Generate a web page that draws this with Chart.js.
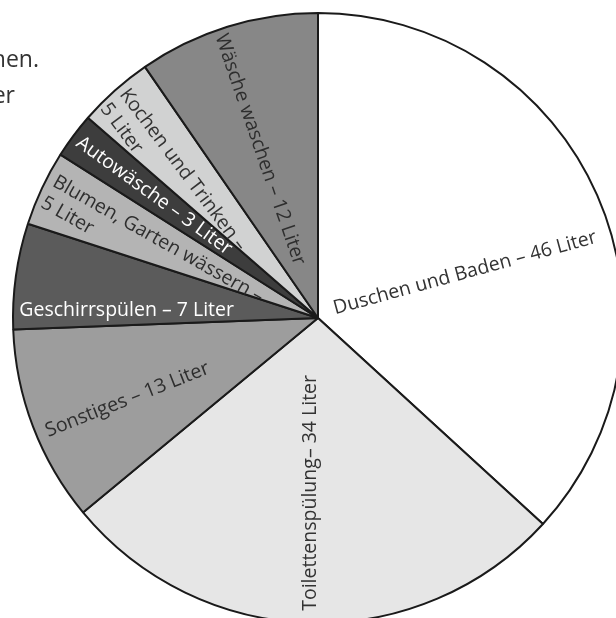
<!DOCTYPE html>
<html lang="de">
<head>
    <meta charset="UTF-8">
    <title>Wasserverbrauch pro Tag</title>
    <script src="https://cdn.jsdelivr.net/npm/chart.js@4"></script>
    <style>
        html, body { margin: 0; padding: 0; overflow: hidden; background: #fff; }
        #wasser { display: block; }
    </style>
</head>
<body>

<canvas id="wasser" width="636" height="636"></canvas>

<script>
    // Verbrauch pro Person und Tag (Liter), im Uhrzeigersinn ab 12 Uhr
    const kategorien = ['Duschen und Baden', 'Toilettenspülung', 'Sonstiges', 'Geschirrspülen',
        'Blumen, Garten wässern', 'Autowäsche', 'Kochen und Trinken', 'Wäsche waschen'];
    const liter = [46, 34, 13, 7, 5, 3, 5, 12];

    // Beschriftung in den Segmenten (Zeilen)
    const beschriftung = [
        ['Duschen und Baden – 46 Liter'],
        ['Toilettenspülung– 34 Liter'],
        ['Sonstiges – 13 Liter'],
        ['Geschirrspülen – 7 Liter'],
        ['Blumen, Garten wässern –', '5 Liter'],
        ['Autowäsche – 3 Liter'],
        ['Kochen und Trinken –', '5 Liter'],
        ['Wäsche waschen – 12 Liter']
    ];

    // Graustufen der Segmente
    const farben = ['#ffffff', '#e6e6e6', '#9d9d9d', '#5b5b5b', '#b4b4b4', '#3d3d3d', '#d1d2d2', '#878787'];
    const textFarben = ['#333333', '#333333', '#2e2e2e', '#ffffff', '#2e2e2e', '#ffffff', '#333333', '#2e2e2e'];

    // Lage der Texte: t = Anteil im Winkel des Segments, r = Anteil vom Radius, rot = Drehung in Grad
    const textLage = [
        {t: 0.551, r: 0.504, rot: -15.3, align: 'center'},
        {t: 0.512, r: 0.574, rot: -90, align: 'center'},
        {t: 0.438, r: 0.68, rot: -21.5, align: 'center'},
        {t: 0.216, r: 0.628, rot: 0, align: 'center'},
        {t: 0.66, r: 0.975, rot: 29.5, align: 'left'},
        {t: 0.5, r: 0.67, rot: 36, align: 'center'},
        {t: 0.58, r: 0.98, rot: 53, align: 'left'},
        {t: 0.45, r: 0.584, rot: 71, align: 'center'}
    ];

    const segmentTexte = {
        id: 'segmentTexte',
        afterDatasetsDraw(chart) {
            const ctx = chart.ctx;
            const meta = chart.getDatasetMeta(0);
            ctx.save();
            ctx.font = '19.5px "Open Sans"';
            ctx.textBaseline = 'middle';
            meta.data.forEach((arc, i) => {
                const lage = textLage[i];
                const p = arc.getProps(['x', 'y', 'startAngle', 'endAngle', 'outerRadius'], true);
                const a = p.startAngle + lage.t * (p.endAngle - p.startAngle);
                const px = p.x + Math.cos(a) * lage.r * p.outerRadius;
                const py = p.y + Math.sin(a) * lage.r * p.outerRadius;
                ctx.save();
                ctx.translate(px, py);
                ctx.rotate(lage.rot * Math.PI / 180);
                ctx.fillStyle = textFarben[i];
                ctx.textAlign = lage.align;
                beschriftung[i].forEach((zeile, z) => {
                    ctx.fillText(zeile, 0, z * 24);
                });
                ctx.restore();
            });
            ctx.restore();
        },
        afterDraw(chart) {
            // Reste des Fließtextes links oben (abgeschnitten)
            const ctx = chart.ctx;
            ctx.save();
            ctx.font = '23px "Open Sans"';
            ctx.fillStyle = '#333333';
            ctx.textAlign = 'right';
            ctx.textBaseline = 'alphabetic';
            ctx.fillText('hen.', 39, 67);
            ctx.fillText('er', 15, 103);
            ctx.restore();
        }
    };

    new Chart(document.getElementById('wasser'), {
        type: 'pie',
        data: {
            labels: kategorien,
            datasets: [{
                data: liter,
                backgroundColor: farben,
                borderColor: '#1a1a1a',
                borderWidth: 2,
                radius: 305
            }]
        },
        options: {
            responsive: false,
            devicePixelRatio: 1,
            animation: false,
            events: [],
            layout: { padding: 0 },
            plugins: {
                legend: { display: false },
                tooltip: { enabled: false }
            }
        },
        plugins: [segmentTexte]
    });
</script>

</body>
</html>
